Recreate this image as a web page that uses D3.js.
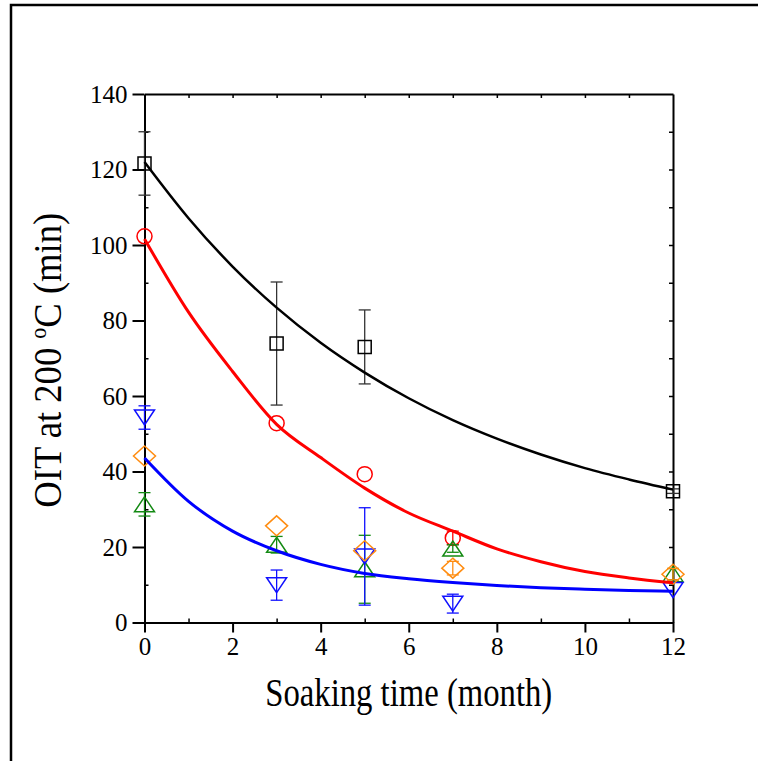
<!DOCTYPE html>
<html>
<head>
<meta charset="utf-8">
<script src="https://cdn.jsdelivr.net/npm/d3@7"></script>
<style>
  body { margin: 0; background: #fff; }
  svg { display: block; }
  text { font-family: "Liberation Serif", "Times New Roman", serif; }
</style>
</head>
<body>
<div id="chart"></div>
<script>
// Measured points (OIT in min) with error bars; 0 = no visible bar
const blackMonths = [0, 3, 5, 12];
const blackOIT = [121.6, 73.9, 73.0, 34.8];
const blackErr = [8.4, 16.3, 9.8, 0.6];

const redMonths = [0, 3, 5, 7];
const redOIT = [102.3, 52.8, 39.3, 22.4];
const redErr = [0, 0, 0, 1.8];

const greenMonths = [0, 3, 5, 7, 12];
const greenOIT = [31.3, 20.6, 14.1, 19.6, 12.8];
const greenErr = [3.1, 2.2, 9.0, 1.0, 1.5];

const orangeMonths = [0, 3, 5, 7, 12];
const orangeOIT = [44.1, 25.6, 19.0, 14.4, 12.8];
const orangeErr = [0, 0, 0, 1.8, 1.5];

const blueMonths = [0, 3, 5, 7, 12];
const blueOIT = [54.3, 9.9, 17.5, 5.0, 8.6];
const blueErr = [3.1, 4.0, 12.9, 2.5, 0];

// Fitted curves
const fitMonths = [0, 1, 2, 3, 4, 5, 6, 7, 8, 9, 10, 11, 12];
const blackFit = [122.0, 107.1, 94.3, 83.4, 74.1, 66.2, 59.4, 53.6, 48.7, 44.5, 40.9, 37.9, 35.2];
const redFit = [101.6, 82.2, 66.5, 52.5, 43.7, 35.6, 29.0, 24.2, 19.5, 16.1, 13.5, 11.8, 10.5];
const blueFit = [43.6, 32.1, 24.2, 19.0, 15.4, 13.0, 11.6, 10.6, 9.8, 9.2, 8.8, 8.5, 8.3];

const xMajor = [0, 2, 4, 6, 8, 10, 12];
const xMinor = [1, 3, 5, 7, 9, 11];
const yMajor = [0, 20, 40, 60, 80, 100, 120, 140];
const yMinor = [10, 30, 50, 70, 90, 110, 130];

const W = 758, H = 761;
const m = {left: 144.5, right: 85, top: 94, bottom: 138.5};
const serif = "'Liberation Serif', 'Times New Roman', serif";

const svg = d3.select("#chart").append("svg")
    .attr("width", W).attr("height", H);

// outer frame (runs off the page on the right and bottom)
svg.append("rect")
    .attr("x", 11).attr("y", 5)
    .attr("width", 800).attr("height", 800)
    .attr("fill", "none").attr("stroke", "#000").attr("stroke-width", 2.5);

const x = d3.scaleLinear().domain([0, 12]).range([m.left, W - m.right]);
const y = d3.scaleLinear().domain([0, 140]).range([H - m.bottom, m.top]);

const g = svg.append("g");

function styleAxis(sel) {
    sel.attr("font-family", serif).attr("font-size", 25);
    sel.select(".domain").attr("stroke-width", 2);
    sel.selectAll(".tick line").attr("stroke-width", 2);
    sel.selectAll(".tick text")
        .style("font-family", serif)
        .style("font-size", "25px").attr("fill", "#000");
}

// bottom axis
g.append("g").attr("transform", `translate(0,${y(0)})`)
    .call(d3.axisBottom(x).tickValues(xMajor).tickSize(10).tickSizeOuter(0).tickPadding(5))
    .call(styleAxis);
g.append("g").attr("transform", `translate(0,${y(0)})`)
    .call(d3.axisBottom(x).tickValues(xMinor).tickSize(-4).tickSizeOuter(0).tickFormat(""))
    .call(s => s.select(".domain").remove())
    .call(s => s.selectAll("line").attr("stroke-width", 1.5));

// top axis
g.append("g").attr("transform", `translate(0,${y(140)})`)
    .call(d3.axisTop(x).tickValues(d3.range(1, 12)).tickSize(-4).tickSizeOuter(0).tickFormat(""))
    .call(s => s.select(".domain").attr("stroke-width", 2))
    .call(s => s.selectAll("line").attr("stroke-width", 1.5));

// left axis
g.append("g").attr("transform", `translate(${x(0)},0)`)
    .call(d3.axisLeft(y).tickValues(yMajor).tickSize(12).tickSizeOuter(0).tickPadding(5))
    .call(styleAxis);
g.append("g").attr("transform", `translate(${x(0)},0)`)
    .call(d3.axisLeft(y).tickValues(yMinor).tickSize(-4).tickSizeOuter(0).tickFormat(""))
    .call(s => s.select(".domain").remove())
    .call(s => s.selectAll("line").attr("stroke-width", 1.5));

// right axis
g.append("g").attr("transform", `translate(${x(12)},0)`)
    .call(d3.axisRight(y).tickValues(d3.range(10, 140, 10)).tickSize(-4).tickSizeOuter(0).tickFormat(""))
    .call(s => s.select(".domain").attr("stroke-width", 2))
    .call(s => s.selectAll("line").attr("stroke-width", 1.5));

// axis titles
svg.append("text")
    .attr("x", (x(0) + x(12)) / 2).attr("y", 706)
    .attr("text-anchor", "middle")
    .attr("textLength", 287).attr("lengthAdjust", "spacingAndGlyphs")
    .style("font-size", "40px")
    .text("Soaking time (month)");

const yt = svg.append("text")
    .attr("transform", `translate(61,${(y(0) + y(140)) / 2 + 2}) rotate(-90)`)
    .attr("text-anchor", "middle")
    .attr("textLength", 295).attr("lengthAdjust", "spacingAndGlyphs")
    .style("font-size", "40px");
yt.append("tspan").text("OIT at 200 ");
yt.append("tspan").attr("dy", -15).style("font-size", "24px").text("o");
yt.append("tspan").attr("dy", 15).text("C (min)");

// symbols
const shapes = {
    square: "M-6.5,-6.5H6.5V6.5H-6.5Z",
    up: "M0,-7.5L10,7.5H-10Z",
    down: "M0,7.5L10,-7.5H-10Z",
    diamond: "M0,-10L11,0L0,10L-11,0Z"
};

const series = [
    {months: blackMonths, vals: blackOIT, errs: blackErr, color: "#000", errColor: "#333", shape: "square"},
    {months: redMonths, vals: redOIT, errs: redErr, color: "#ff0000", errColor: "#ff0000", shape: "circle"},
    {months: greenMonths, vals: greenOIT, errs: greenErr, color: "#138a13", errColor: "#138a13", shape: "up"},
    {months: blueMonths, vals: blueOIT, errs: blueErr, color: "#1010ff", errColor: "#1010ff", shape: "down"},
    {months: orangeMonths, vals: orangeOIT, errs: orangeErr, color: "#ff8c10", errColor: "#ff8c10", shape: "diamond"}
];

series.forEach(s => {
    const pts = s.months.map((mo, i) => ({m: mo, v: s.vals[i], e: s.errs[i]}));
    const sg = g.append("g");
    // error bars
    const eb = sg.selectAll(".eb").data(pts.filter(d => d.e > 0)).enter().append("g")
        .attr("stroke", s.errColor).attr("stroke-width", 1.3);
    eb.append("line")
        .attr("x1", d => x(d.m)).attr("x2", d => x(d.m))
        .attr("y1", d => y(d.v - d.e)).attr("y2", d => y(d.v + d.e));
    eb.append("line")
        .attr("x1", d => x(d.m) - 6).attr("x2", d => x(d.m) + 6)
        .attr("y1", d => y(d.v + d.e)).attr("y2", d => y(d.v + d.e));
    eb.append("line")
        .attr("x1", d => x(d.m) - 6).attr("x2", d => x(d.m) + 6)
        .attr("y1", d => y(d.v - d.e)).attr("y2", d => y(d.v - d.e));
    // markers
    if (s.shape === "circle") {
        sg.selectAll("circle").data(pts).enter().append("circle")
            .attr("cx", d => x(d.m)).attr("cy", d => y(d.v)).attr("r", 7.5)
            .attr("fill", "none").attr("stroke", s.color).attr("stroke-width", 1.5);
    } else {
        sg.selectAll(".mk").data(pts).enter().append("path")
            .attr("transform", d => `translate(${x(d.m)},${y(d.v)})`)
            .attr("d", shapes[s.shape])
            .attr("fill", "none").attr("stroke", s.color).attr("stroke-width", 1.5);
    }
});

// fitted curves
const line = d3.line().x(d => x(d[0])).y(d => y(d[1])).curve(d3.curveMonotoneX);
[[blackFit, "#000", 2.5], [redFit, "#ff0000", 3], [blueFit, "#0000ff", 3]].forEach(([vals, col, w]) => {
    g.append("path")
        .datum(fitMonths.map((mo, i) => [mo, vals[i]]))
        .attr("d", line)
        .attr("fill", "none").attr("stroke", col).attr("stroke-width", w);
});
</script>
</body>
</html>
